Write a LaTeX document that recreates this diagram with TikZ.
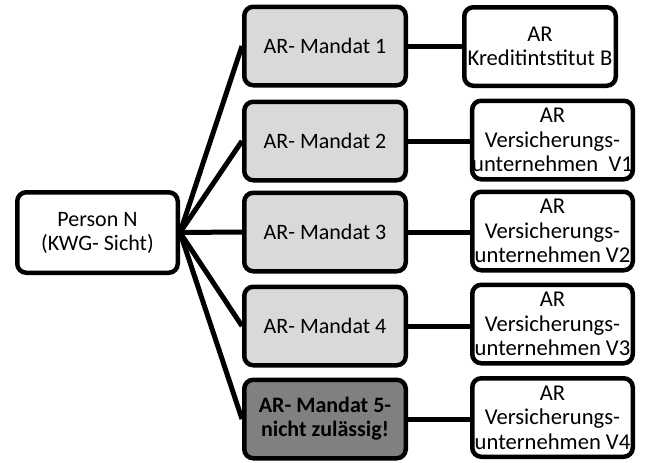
\documentclass[tikz,border=0pt]{standalone}
\usepackage{fontspec}
\setmainfont{Carlito}
\usetikzlibrary{backgrounds}
\definecolor{lightbox}{HTML}{D9D9D9}
\definecolor{darkbox}{HTML}{808080}
\tikzset{
  box/.style={draw=black, line width=4.5pt, rounded corners=9pt, align=center,
    inner sep=0pt, minimum height=78.5pt, font=\fontsize{22}{24}\selectfont},
  personbox/.style={box, fill=white, minimum width=160.5pt, minimum height=80.5pt},
  mandatbox/.style={box, fill=lightbox, minimum width=161.5pt},
  blockedbox/.style={box, fill=darkbox, minimum width=161.5pt,
    font=\fontsize{22}{24}\selectfont\bfseries},
  targetbox/.style={box, fill=white, minimum width=160.5pt,
    font=\fontsize{22.6}{24.5}\selectfont},
  link/.style={draw=black, line width=5pt}
}
\begin{document}
\begin{tikzpicture}[x=1pt, y=-1pt]
\useasboundingbox (0,0) rectangle (645,463);

\node[personbox] (p) at (97.5,232.5) {Person N\\(KWG- Sicht)};

\node[mandatbox]  (m1) at (325,46)  {AR- Mandat 1};
\node[mandatbox]  (m2) at (325,141) {AR- Mandat 2};
\node[mandatbox]  (m3) at (325,232) {AR- Mandat 3};
\node[mandatbox]  (m4) at (325,326) {AR- Mandat 4};
\node[blockedbox] (m5) at (325,419) {AR- Mandat 5-\\nicht zulässig!};

\node[targetbox, minimum width=151.5pt] (r1) at (540,46.5) {AR\\Kreditintstitut B};
\node[targetbox] (r2) at (552.5,140) {AR\\Versicherungs-\\unternehmen\ \ V1};
\node[targetbox] (r3) at (552.5,231) {AR\\Versicherungs-\\unternehmen V2};
\node[targetbox] (r4) at (552.5,324) {AR\\Versicherungs-\\unternehmen V3};
\node[targetbox] (r5) at (552.5,417.5) {AR\\Versicherungs-\\unternehmen V4};

\begin{scope}[on background layer]
  \foreach \m in {m1,m2,m3,m4,m5}
    \draw[link] (p.east) -- (\m.west);
  \draw[link] (m1.east) -- (m1.east -| r1.west);
  \draw[link] (m2.east) -- (m2.east -| r2.west);
  \draw[link] (m3.east) -- (m3.east -| r3.west);
  \draw[link] (m4.east) -- (m4.east -| r4.west);
  \draw[link] (m5.east) -- (m5.east -| r5.west);
\end{scope}
\end{tikzpicture}
\end{document}
